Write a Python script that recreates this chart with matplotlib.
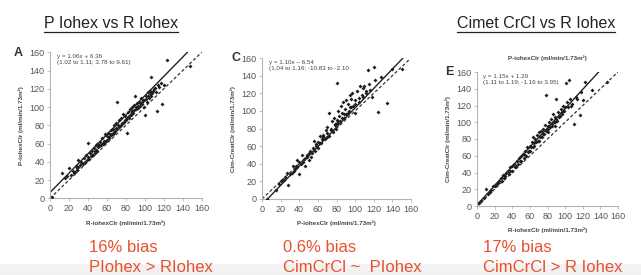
import numpy as np
import matplotlib
matplotlib.use('Agg')
import matplotlib.pyplot as plt
from matplotlib.lines import Line2D

plt.rcParams['font.family'] = ['Liberation Sans', 'DejaVu Sans']

# panel A: R-iohexClr vs P-iohexClr
a_x = [2, 13, 16, 20, 22, 24, 25, 27, 28, 30, 30, 32, 33, 35, 36, 37, 38, 40, 40, 41,
       42, 43, 44, 45, 46, 47, 48, 49, 50, 50, 51, 52, 53, 54, 55, 56, 57, 58, 58, 60,
       60, 61, 62, 63, 64, 65, 66, 67, 68, 69, 70, 70, 71, 72, 73, 74, 75, 76, 77, 78,
       79, 80, 81, 82, 83, 84, 85, 86, 87, 88, 89, 90, 91, 92, 93, 94, 95, 96, 97, 98,
       99, 100, 101, 102, 103, 104, 105, 106, 107, 108, 110, 112, 113, 115, 118, 123, 148,
       18, 26, 29, 34, 39, 44, 47, 52, 55, 57, 59, 62, 64, 66, 68, 71, 73, 75, 77, 79,
       81, 83, 85, 87, 89, 91, 93, 95, 97, 99, 101, 103, 105, 107, 109, 111, 114, 117, 120]
a_y = [1, 28, 22, 33, 25, 30, 28, 35, 31, 42, 34, 36, 40, 38, 44, 40, 47, 61, 45, 43,
       50, 46, 52, 48, 55, 50, 53, 58, 52, 60, 56, 57, 62, 58, 66, 60, 63, 70, 62, 68,
       64, 72, 66, 71, 75, 70, 76, 72, 80, 74, 82, 77, 105, 80, 86, 79, 88, 83, 92, 84,
       90, 86, 72, 95, 88, 98, 91, 96, 100, 93, 102, 112, 98, 104, 99, 106, 101, 110, 103, 108,
       100, 91, 112, 106, 116, 110, 118, 112, 133, 115, 120, 117, 96, 122, 103, 152, 145,
       24, 29, 33, 39, 42, 48, 52, 58, 60, 62, 63, 67, 69, 71, 73, 76, 78, 80, 82, 86,
       88, 90, 92, 95, 97, 100, 101, 104, 106, 108, 109, 112, 114, 117, 118, 121, 124, 126, 124]

# panel C: P-iohexClr vs Cim-CreatClr
c_x = [5, 15, 18, 20, 22, 25, 27, 28, 30, 32, 33, 35, 36, 38, 38, 40, 40, 42, 43, 45,
       46, 48, 50, 50, 52, 53, 55, 56, 57, 58, 60, 60, 62, 63, 64, 65, 66, 68, 69, 70,
       70, 72, 72, 74, 75, 76, 77, 78, 79, 80, 80, 81, 82, 83, 84, 85, 86, 87, 88, 89,
       90, 90, 92, 93, 94, 95, 96, 97, 98, 100, 100, 102, 104, 105, 107, 108, 110, 112, 114, 115,
       118, 120, 121, 125, 128, 134, 140, 150,
       24, 34, 44, 48, 54, 58, 62, 66, 70, 74, 78, 82, 86, 88, 92, 96, 100, 104, 108, 112, 116]
c_y = [0, 10, 17, 20, 22, 25, 30, 16, 28, 30, 37, 34, 38, 36, 44, 28, 42, 40, 50, 45,
       38, 48, 52, 44, 55, 48, 58, 66, 54, 62, 65, 58, 72, 63, 68, 73, 70, 68, 78, 75,
       82, 98, 72, 80, 88, 76, 92, 85, 80, 132, 90, 86, 100, 94, 88, 105, 98, 110, 92, 102,
       112, 96, 108, 100, 118, 104, 114, 120, 106, 112, 98, 122, 115, 128, 118, 126, 128, 120, 146, 130,
       116, 150, 135, 99, 138, 109, 148, 148,
       22, 32, 42, 50, 52, 60, 64, 72, 70, 78, 84, 88, 92, 96, 98, 104, 108, 110, 116, 122, 124]

# panel E: R-iohexClr vs Cim-CreatClr
e_x = [2, 5, 8, 10, 12, 15, 18, 20, 22, 25, 27, 28, 30, 32, 33, 35, 36, 38, 40, 40,
       42, 43, 45, 46, 48, 50, 50, 52, 53, 55, 56, 57, 58, 60, 60, 62, 63, 64, 65, 66,
       67, 68, 70, 70, 72, 73, 74, 75, 76, 77, 78, 78, 80, 80, 82, 83, 84, 85, 86, 87,
       88, 89, 90, 90, 92, 93, 95, 96, 98, 100, 101, 102, 104, 105, 107, 110, 112, 117, 118, 120,
       123, 130, 148,
       16, 24, 31, 37, 44, 49, 54, 59, 61, 65, 69, 71, 75, 79, 81, 85, 88, 91, 94, 97,
       99, 103, 108, 114]
e_y = [3, 6, 10, 20, 14, 17, 24, 24, 26, 30, 33, 30, 37, 36, 40, 42, 38, 46, 48, 42,
       50, 46, 54, 50, 57, 60, 54, 62, 57, 66, 60, 70, 64, 72, 66, 76, 70, 82, 72, 80,
       76, 85, 88, 78, 84, 90, 82, 92, 86, 97, 132, 90, 96, 88, 100, 94, 104, 98, 110, 100,
       106, 96, 128, 104, 112, 106, 116, 110, 120, 118, 147, 124, 150, 128, 120, 98, 130, 109, 136, 126,
       148, 138, 148,
       19, 28, 34, 42, 48, 54, 61, 66, 71, 75, 78, 82, 86, 90, 92, 96, 100, 102, 108, 112,
       114, 118, 122, 128]

fits = [(1.06, 6.36), (1.10, -6.54), (1.15, 1.29)]
fit_text = ['y = 1.06x + 6.36\n(1.02 to 1.11; 3.78 to 9.61)',
            'y = 1.10x \u2013 6.54\n(1.04 to 1.16; -10.83 to -2.10',
            'y = 1.15x + 1.29\n(1.11 to 1.19; -1.16 to 3.95)']
letters = ['A', 'C', 'E']
xlabels = ['R-iohexClr (ml/min/1.73m\u00b2)', 'P-iohexClr (ml/min/1.73m\u00b2)',
           'R-iohexClr (ml/min/1.73m\u00b2)']
ylabels = ['P-iohexClr (ml/min/1.73m\u00b2)', 'Cim-CreatClr (ml/min/1.73m\u00b2)',
           'Cim-CreatClr (ml/min/1.73m\u00b2)']
ticks = [0, 20, 40, 60, 80, 100, 120, 140, 160]
red = '#e8502f'

W, H = 641, 275
fig = plt.figure(figsize=(W / 100, H / 100), dpi=100)

# grey band at bottom of slide
bg = fig.add_axes([0, 0, 1, 1], zorder=-5)
grad = np.linspace(0, 1, 100)[:, None]
bg.imshow(grad, cmap='Greys', vmin=0, vmax=9, aspect='auto', extent=[0, 1, 0, 1])
bg.set_xlim(0, 1); bg.set_ylim(0, 1)
bg.axhspan(0.045, 1, color='white')
bg.axis('off')

# axes boxes in pixels: x0, x1, y0(bottom), y1(top)
boxes = [(50, 201.7, 198.3, 52.3), (262, 411, 199, 58), (477, 618, 206, 72)]
data = [(a_x, a_y), (c_x, c_y), (e_x, e_y)]
ends = [(145, 160), (151, 158), (138, 160)]
letter_pos = [(23, 53), (241, 58), (454, 72)]

for i, (x0, x1, yb, yt) in enumerate(boxes):
    ax = fig.add_axes([x0 / W, 1 - yb / H, (x1 - x0) / W, (yb - yt) / H])
    ax.set_xlim(0, 160)
    ax.set_ylim(0, 160)
    for s in ['top', 'right']:
        ax.spines[s].set_visible(False)
    for s in ['left', 'bottom']:
        ax.spines[s].set_color('#b5b5b5')
        ax.spines[s].set_linewidth(0.8)
    ax.set_xticks(ticks)
    ax.set_yticks(ticks)
    ax.tick_params(labelsize=6.5, colors='#b5b5b5', labelcolor='#555555', length=2.5, width=0.6, pad=1.5)
    x, y = data[i]
    ax.scatter(x, y, marker='D', s=4, color='#1e1e1e', linewidths=0, zorder=3)
    m, b = fits[i]
    x_start = max(0, -b / m)
    ax.plot([x_start, ends[i][0]], [m * x_start + b, m * ends[i][0] + b], color='#222222', lw=1.0)
    ax.plot([0, ends[i][1]], [0, ends[i][1]], color='#333333', lw=0.9, ls=(0, (2.5, 1.8)))
    ax.text(7, 158, fit_text[i], fontsize=4.5, color='#444444', va='top', ha='left', linespacing=1.3)
    ax.set_xlabel(xlabels[i], fontsize=4.5, fontweight='bold', color='#444444', labelpad=5)
    ax.set_ylabel(ylabels[i], fontsize=4.5, fontweight='bold', color='#444444', labelpad=4)
    fig.text(letter_pos[i][0] / W, 1 - letter_pos[i][1] / H, letters[i], fontsize=9,
             fontweight='bold', color='#333333', ha='right', va='center')

# stray axis title above panel E
fig.text(547 / W, 1 - 58 / H, 'P-iohexClr (ml/min/1.73m\u00b2)', fontsize=4.5, fontweight='bold',
         color='#444444', ha='center', va='center')

# slide titles with underline
titles = [('P Iohex vs R Iohex', 111), ('Cimet CrCl vs R Iohex', 536)]
title_objs = []
for t, cx in titles:
    title_objs.append(fig.text(cx / W, 1 - 23 / H, t, fontsize=11.5, color='#222222',
                               ha='center', va='center'))
fig.canvas.draw()
r = fig.canvas.get_renderer()
for tobj in title_objs:
    bb = tobj.get_window_extent(r)
    yl = (bb.y0 - 1) / H
    fig.add_artist(Line2D([bb.x0 / W, bb.x1 / W], [yl, yl], color='#222222', lw=0.9))

# red comments
notes = [('16% bias', 'PIohex > RIohex', 89), ('0.6% bias', 'CimCrCl ~  PIohex', 283),
         ('17% bias', 'CimCrCl > R Iohex', 483)]
for l1, l2, px in notes:
    fig.text(px / W, 1 - 248 / H, l1, fontsize=12, color=red, ha='left', va='center')
    fig.text(px / W, 1 - 267 / H, l2, fontsize=12, color=red, ha='left', va='center')

fig.savefig('out.png', dpi=100)
